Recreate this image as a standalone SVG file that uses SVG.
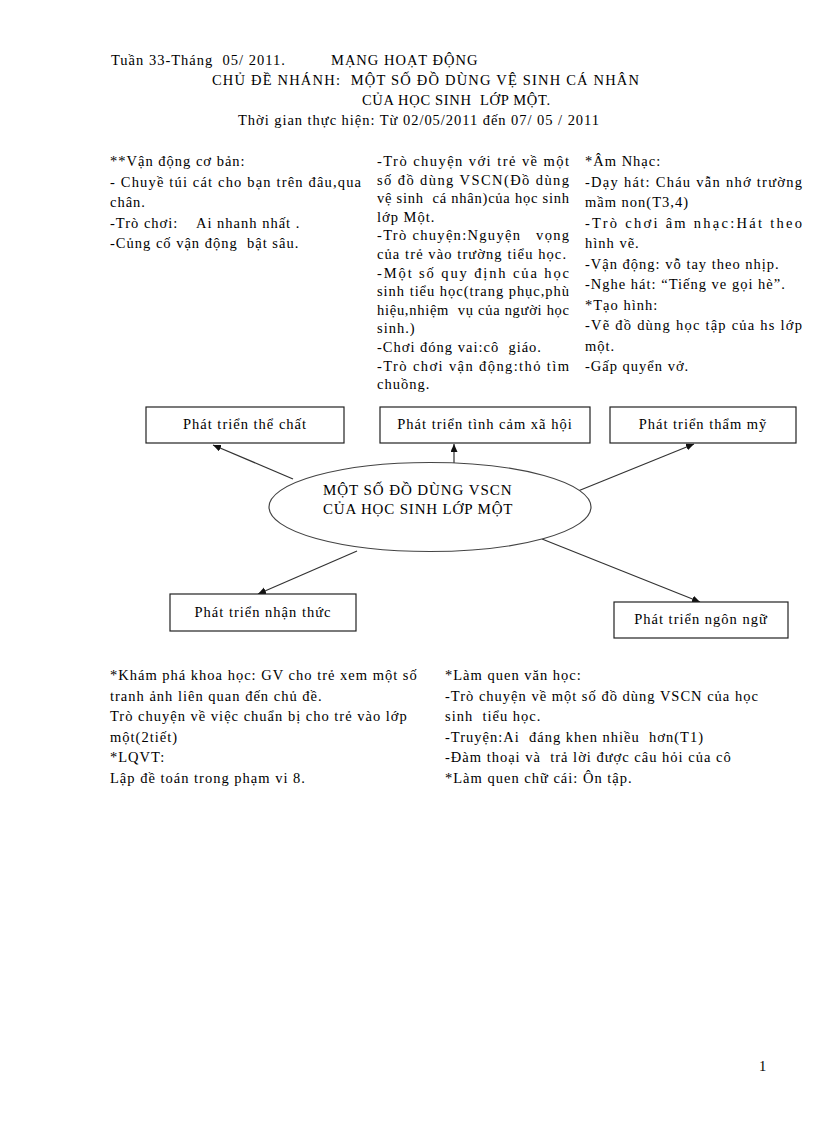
<svg xmlns="http://www.w3.org/2000/svg" width="816" height="1123" viewBox="0 0 816 1123">
<style>
text{font-family:"Liberation Serif","Times New Roman",serif;font-size:14.5px;letter-spacing:1px;fill:#000}
.box{fill:#fff;stroke:#222;stroke-width:1.2}
.lbl{text-anchor:middle}
.ell{font-size:15px;letter-spacing:0.5px}
.con{stroke:#333;stroke-width:1.2;fill:none}
</style>
<defs>
<marker id="ah" markerUnits="userSpaceOnUse" markerWidth="9" markerHeight="8" refX="8" refY="3.5" orient="auto">
<path d="M0,0 L8,3.5 L0,7 z" fill="#111"/>
</marker>
</defs>
<rect width="816" height="1123" fill="#fff"/>

<g id="header">
<text x="111" y="65" xml:space="preserve">Tuần 33-Tháng  05/ 2011.</text>
<text x="331" y="65">MẠNG HOẠT ĐỘNG</text>
<text x="212" y="85" xml:space="preserve" textLength="428" lengthAdjust="spacing">CHỦ ĐỀ NHÁNH:  MỘT SỐ ĐỒ DÙNG VỆ SINH CÁ NHÂN</text>
<text x="362" y="105" xml:space="preserve" textLength="189" lengthAdjust="spacing">CỦA HỌC SINH  LỚP MỘT.</text>
<text x="238" y="125" textLength="362" lengthAdjust="spacing">Thời gian thực hiện: Từ 02/05/2011 đến 07/ 05 / 2011</text>
</g>

<g id="col-left">
<text x="110" y="166">**Vận động cơ bản:</text>
<text x="110" y="186.5" textLength="252" lengthAdjust="spacing">- Chuyề túi cát cho bạn trên đâu,qua</text>
<text x="110" y="207">chân.</text>
<text x="110" y="227.5" xml:space="preserve">-Trò chơi:    Ai nhanh nhất .</text>
<text x="110" y="248" xml:space="preserve">-Củng cố vận động  bật sâu.</text>
</g>

<g id="col-mid">
<text x="377" y="166" textLength="193" lengthAdjust="spacing">-Trò chuyện với trẻ về một</text>
<text x="377" y="184.6" textLength="193" lengthAdjust="spacing">số đồ dùng VSCN(Đồ dùng</text>
<text x="377" y="203.2" xml:space="preserve" textLength="193" lengthAdjust="spacing">vệ sinh  cá nhân)của học sinh</text>
<text x="377" y="221.8">lớp Một.</text>
<text x="377" y="240.4" xml:space="preserve" textLength="193" lengthAdjust="spacing">-Trò chuyện:Nguyện   vọng</text>
<text x="377" y="259" textLength="190" lengthAdjust="spacing">của trẻ vào trường tiểu học.</text>
<text x="377" y="277.6" textLength="193" lengthAdjust="spacing">-Một số quy định của học</text>
<text x="377" y="296.2" textLength="193" lengthAdjust="spacing">sinh tiểu học(trang phục,phù</text>
<text x="377" y="314.8" xml:space="preserve" textLength="193" lengthAdjust="spacing">hiệu,nhiệm  vụ của người học</text>
<text x="377" y="333.4">sinh.)</text>
<text x="377" y="352" xml:space="preserve">-Chơi đóng vai:cô  giáo.</text>
<text x="377" y="370.6" textLength="193" lengthAdjust="spacing">-Trò chơi vận động:thỏ tìm</text>
<text x="377" y="389.2">chuồng.</text>
</g>

<g id="col-right">
<text x="585" y="166">*Âm Nhạc:</text>
<text x="585" y="186.5" textLength="218" lengthAdjust="spacing">-Dạy hát: Cháu vẫn nhớ trường</text>
<text x="585" y="207">mầm non(T3,4)</text>
<text x="585" y="227.5" textLength="218" lengthAdjust="spacing">-Trò chơi âm nhạc:Hát theo</text>
<text x="585" y="248">hình vẽ.</text>
<text x="585" y="268.5">-Vận động: vỗ tay theo nhịp.</text>
<text x="585" y="289">-Nghe hát: “Tiếng ve gọi hè”.</text>
<text x="585" y="309.5">*Tạo hình:</text>
<text x="585" y="330" textLength="218" lengthAdjust="spacing">-Vẽ đồ dùng học tập của hs lớp</text>
<text x="585" y="350.5">một.</text>
<text x="585" y="371">-Gấp quyển vở.</text>
</g>

<g id="connectors">
<line class="con" x1="293" y1="479" x2="213" y2="445" marker-end="url(#ah)"/>
<line class="con" x1="454" y1="463" x2="454" y2="444" marker-end="url(#ah)"/>
<line class="con" x1="578" y1="491" x2="694" y2="444" marker-end="url(#ah)"/>
<line class="con" x1="357" y1="551" x2="258" y2="594" marker-end="url(#ah)"/>
<line class="con" x1="542" y1="539" x2="700" y2="602" marker-end="url(#ah)"/>
</g>

<g id="node-the-chat">
<rect class="box" x="146" y="407" width="198" height="36"/>
<text class="lbl" x="245" y="429">Phát triển thể chất</text>
</g>
<g id="node-tinh-cam">
<rect class="box" x="380" y="407" width="210" height="36"/>
<text class="lbl" x="485" y="429">Phát triển tình cảm xã hội</text>
</g>
<g id="node-tham-my">
<rect class="box" x="610" y="407" width="186" height="36"/>
<text class="lbl" x="703" y="429">Phát triển thẩm mỹ</text>
</g>
<g id="node-center">
<ellipse cx="430" cy="507" rx="161" ry="44.5" fill="#fff" stroke="#444" stroke-width="1.2"/>
<text class="ell" x="323" y="495" textLength="189" lengthAdjust="spacing">MỘT SỐ ĐỒ DÙNG VSCN</text>
<text class="ell" x="323" y="514" textLength="190" lengthAdjust="spacing">CỦA HỌC SINH LỚP MỘT</text>
</g>
<g id="node-nhan-thuc">
<rect class="box" x="170" y="594" width="186" height="37"/>
<text class="lbl" x="263" y="617">Phát triển nhận thức</text>
</g>
<g id="node-ngon-ngu">
<rect class="box" x="614" y="602" width="174" height="36"/>
<text class="lbl" x="701" y="624">Phát triển ngôn ngữ</text>
</g>

<g id="bottom-left">
<text x="110" y="680">*Khám phá khoa học: GV cho trẻ xem một số</text>
<text x="110" y="700.5">tranh ảnh liên quan đến chủ đề.</text>
<text x="110" y="721">Trò chuyện về việc chuẩn bị cho trẻ vào lớp</text>
<text x="110" y="741.5">một(2tiết)</text>
<text x="110" y="762">*LQVT:</text>
<text x="110" y="782.5">Lập đề toán trong phạm vi 8.</text>
</g>

<g id="bottom-right">
<text x="445" y="680">*Làm quen văn học:</text>
<text x="445" y="700.5">-Trò chuyện về một số đồ dùng VSCN của học</text>
<text x="445" y="721" xml:space="preserve">sinh  tiểu học.</text>
<text x="445" y="741.5" xml:space="preserve">-Truyện:Ai  đáng khen nhiều  hơn(T1)</text>
<text x="445" y="762" xml:space="preserve">-Đàm thoại và  trả lời được câu hỏi của cô</text>
<text x="445" y="782.5">*Làm quen chữ cái: Ôn tập.</text>
</g>

<text x="759" y="1071">1</text>
</svg>
